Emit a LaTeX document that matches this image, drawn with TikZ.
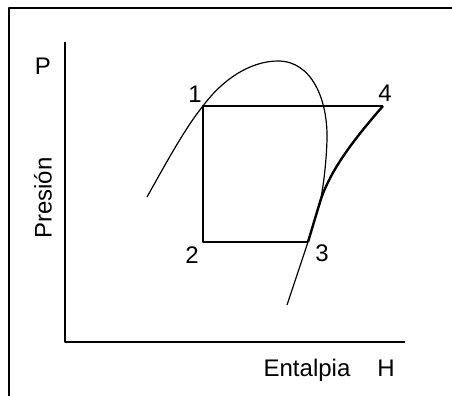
\documentclass[tikz,border=0pt]{standalone}
\usepackage{fontspec}
\newfontfamily\plotfont{Liberation Sans}
\begin{document}
\begin{tikzpicture}[x=0.5pt, y=-0.5pt, line join=round,
    every node/.style={font=\plotfont\fontsize{12}{14}\selectfont, inner sep=0pt},
    frameline/.style={line width=1.4pt},
    axisline/.style={line width=1.2pt},
    cycleline/.style={line width=1.2pt},
    curveline/.style={line width=0.6pt}]
  \useasboundingbox (0,0) rectangle (452,396);
  % frame
  \draw[frameline] (9,396) -- (9,8) -- (452,8);
  % axes
  \coordinate (origin) at (65,342);
  \coordinate (ytop) at (65,42);
  \coordinate (xend) at (405,342);
  \draw[axisline] (ytop) -- (origin) -- (xend);
  \node (plabel) at (43,66) {P};
  \node (presion) at (43,198) [rotate=90] {Presión};
  \node (entalpia) at (307,377) [anchor=base] {Entalpia};
  \node (hlabel) at (386,377) [anchor=base] {H};
  % cycle points
  \coordinate (p1) at (203,106);
  \coordinate (p2) at (203,242);
  \coordinate (p3) at (308,242);
  \coordinate (p4) at (383,106);
  \coordinate (domestart) at (147,197);
  \coordinate (domepeak) at (278,61);
  \coordinate (domeend) at (319,207);
  \coordinate (isoend) at (287,305);
  \node (l1) at (195,94) {1};
  \node (l2) at (192,255) {2};
  \node (l3) at (322,253) {3};
  \node (l4) at (385,93) {4};
  % saturation dome
  \draw[curveline] (domestart) .. controls (165,165) and (185,128) .. (p1)
    .. controls (222,80) and (250,61) .. (domepeak)
    .. controls (312,61) and (328,100) .. (327,140)
    .. controls (326,170) and (322,195) .. (domeend);
  % cycle
  \draw[cycleline] (p4) -- (p1) -- (p2) -- (p3);
  \draw[cycleline] (p4) .. controls (355,138) and (330,170) .. (320,202) -- (p3);
  \draw[curveline] (p3) -- (isoend);
\end{tikzpicture}
\end{document}
